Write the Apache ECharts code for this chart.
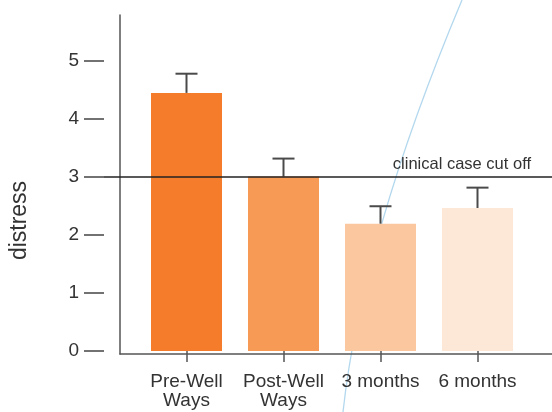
<!DOCTYPE html>
<html>
<head>
<meta charset="utf-8">
<script src="https://cdn.jsdelivr.net/npm/echarts@6/dist/echarts.min.js"></script>
<style>
  html, body { margin: 0; padding: 0; background: #fff; }
  #chart { width: 552px; height: 412px; }
</style>
</head>
<body>
<div id="chart"></div>
<script>
// Mean distress score per assessment point, with the upper end of each error bar
const categories = ['Pre-Well\nWays', 'Post-Well\nWays', '3 months', '6 months'];
const distressMeans = [4.44, 3.00, 2.19, 2.46];
const distressUpper = [4.77, 3.31, 2.49, 2.81];
const barColors = ['#F47C2B', '#F79A56', '#FBC79E', '#FDE7D6'];
const yTickValues = [0, 1, 2, 3, 4, 5];
const clinicalCutoff = 3;

const FONT = '"Liberation Sans", Arial, Helvetica, sans-serif';
const TEXT = '#333333';
const AXIS = '#555555';

// Shared vertical extent: 0 sits 3px above the baseline, bars reach the baseline
const Y_MAX = 5.78;
const Y_MIN_BAR = -0.052;

const chart = echarts.init(document.getElementById('chart'));

chart.setOption({
  animation: false,
  backgroundColor: '#ffffff',
  textStyle: { fontFamily: FONT },
  graphic: [{
    // faint blue stroke crossing the plot behind the bars
    type: 'bezierCurve',
    z: 0,
    silent: true,
    shape: { x1: 462, y1: 0, x2: 343, y2: 412, cpx1: 362, cpy1: 238 },
    style: { stroke: '#B3D8EE', lineWidth: 1.3, fill: null }
  }],
  grid: [
    // frame: axis lines
    { left: 120, right: 0, top: 15, bottom: 58, outerBoundsMode: 'none' },
    // tick marks and labels, plus the cut-off line
    { left: 104, right: 0, top: 15, bottom: 61, outerBoundsMode: 'none' },
    // bars
    { left: 138, right: 26, top: 15, bottom: 58, outerBoundsMode: 'none' }
  ],
  xAxis: [
    {
      gridIndex: 0, type: 'value', min: 0, max: 1,
      axisLine: { show: true, onZero: false, lineStyle: { color: AXIS, width: 1.5 } },
      axisTick: { show: false }, axisLabel: { show: false }, splitLine: { show: false }
    },
    {
      gridIndex: 1, type: 'value', min: 0, max: 1, show: false
    },
    {
      gridIndex: 2, type: 'category', data: categories,
      axisLine: { show: false },
      axisTick: { show: true, alignWithLabel: true, length: 11, lineStyle: { color: AXIS, width: 1.5 } },
      axisLabel: { color: TEXT, fontSize: 19, lineHeight: 19, margin: 18, fontFamily: FONT, interval: 0 },
      splitLine: { show: false }
    }
  ],
  yAxis: [
    {
      gridIndex: 0, type: 'value', min: Y_MIN_BAR, max: Y_MAX,
      name: 'distress', nameLocation: 'middle', nameGap: 89, nameRotate: 90,
      // right padding pushes the rotated title down along the axis
      nameTextStyle: { color: TEXT, fontSize: 23, fontFamily: FONT, padding: [0, 72, 0, 0] },
      axisLine: { show: true, onZero: false, lineStyle: { color: AXIS, width: 1.5 } },
      axisTick: { show: false }, axisLabel: { show: false }, splitLine: { show: false }
    },
    {
      gridIndex: 1, type: 'value', min: 0, max: Y_MAX,
      axisLine: { show: false },
      axisTick: { show: true, length: 20, customValues: yTickValues, lineStyle: { color: '#444', width: 1.5 } },
      axisLabel: { color: TEXT, fontSize: 19, margin: 25, fontFamily: FONT, customValues: yTickValues },
      splitLine: { show: false }
    },
    {
      gridIndex: 2, type: 'value', min: Y_MIN_BAR, max: Y_MAX, show: false
    }
  ],
  series: [
    {
      type: 'bar',
      xAxisIndex: 2, yAxisIndex: 2,
      barWidth: 71,
      z: 2,
      data: distressMeans.map((v, i) => ({ value: v, itemStyle: { color: barColors[i] } }))
    },
    {
      // error bars: stem from the mean up to the upper value, with a cap
      type: 'custom',
      xAxisIndex: 2, yAxisIndex: 2,
      z: 3,
      data: distressMeans.map((v, i) => [i, v, distressUpper[i]]),
      renderItem: function (params, api) {
        const base = api.coord([api.value(0), api.value(1)]);
        const top = api.coord([api.value(0), api.value(2)]);
        const half = 11;
        const style = { stroke: '#4a4a4a', lineWidth: 2 };
        return {
          type: 'group',
          children: [
            { type: 'line', shape: { x1: base[0], y1: base[1], x2: top[0], y2: top[1] }, style: style },
            { type: 'line', shape: { x1: top[0] - half, y1: top[1], x2: top[0] + half, y2: top[1] }, style: style }
          ]
        };
      }
    },
    {
      // clinical case cut-off reference line
      type: 'line',
      xAxisIndex: 1, yAxisIndex: 1,
      data: [],
      markLine: {
        silent: true,
        symbol: 'none',
        lineStyle: { color: '#222', width: 1.5, type: 'solid' },
        label: {
          show: true,
          position: 'insideEndTop',
          formatter: 'clinical case cut off',
          color: TEXT,
          fontSize: 16.5,
          fontFamily: FONT,
          distance: [21, 4]
        },
        data: [{ yAxis: clinicalCutoff }]
      }
    }
  ]
});
</script>
</body>
</html>
